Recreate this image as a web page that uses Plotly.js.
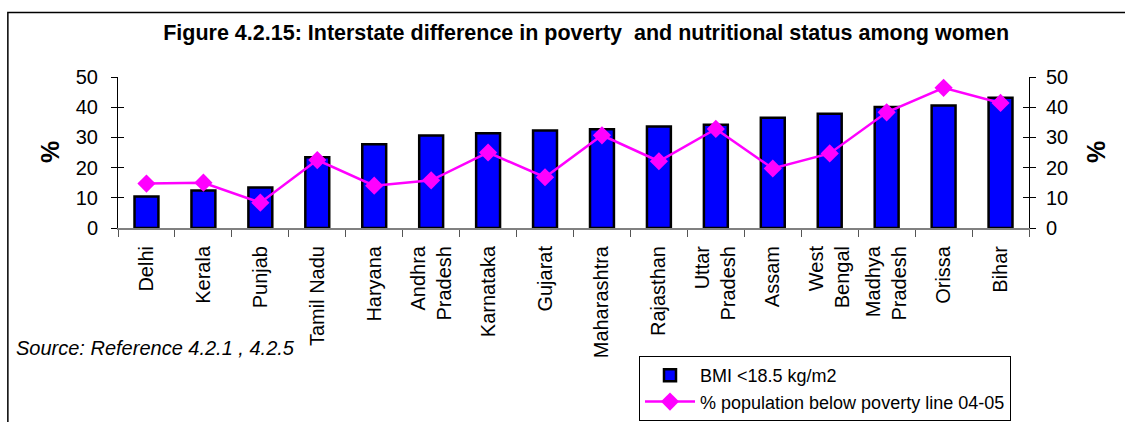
<!DOCTYPE html>
<html>
<head>
<meta charset="utf-8">
<script src="https://cdn.plot.ly/plotly-3.0.1.min.js"></script>
<style>html,body{margin:0;padding:0;background:#fff;}#chart{width:1125px;height:422px;}</style>
</head>
<body>
<div id="chart"></div>
<script>
var states = ["Delhi","Kerala","Punjab","Tamil Nadu","Haryana","Andhra<br>Pradesh","Karnataka","Gujarat","Maharashtra","Rajasthan","Uttar<br>Pradesh","Assam","West<br>Bengal","Madhya<br>Pradesh","Orissa","Bihar"];
var bmiLow = [10.4,12.4,13.4,23.4,27.7,30.6,31.4,32.3,32.7,33.6,34.2,36.5,37.8,40.1,40.6,43.1];
var poverty = [14.7,15.0,8.4,22.5,14.0,15.8,25.0,16.8,30.7,22.1,32.8,19.7,24.7,38.3,46.4,41.4];
var yTicks = [0,10,20,30,40,50];

var FONT = "Liberation Sans, Arial, sans-serif";

var traces = [
  {
    type: "bar", name: "BMI <18.5 kg/m2", x: states, y: bmiLow, yaxis: "y",
    marker: {color: "#0000FF", line: {color: "#000000", width: 2.5}},
    hoverinfo: "skip"
  },
  {
    type: "scatter", mode: "lines+markers", name: "% population below poverty line 04-05",
    x: states, y: poverty, yaxis: "y2",
    line: {color: "#FF00FF", width: 2.5},
    marker: {symbol: "diamond", size: 14, color: "#FF00FF"},
    hoverinfo: "skip"
  },
  {type: "scatter", x: [], y: [], yaxis: "y3", showlegend: false, hoverinfo: "skip"},
  {type: "scatter", x: [], y: [], yaxis: "y4", showlegend: false, hoverinfo: "skip"}
];

var yCommon = {
  range: [0, 50], tickvals: yTicks, showgrid: false, zeroline: false,
  showline: true, linecolor: "#000", linewidth: 1,
  ticks: "outside", ticklen: 6, tickcolor: "#000", tickwidth: 1,
  tickfont: {family: FONT, size: 20, color: "#000"}, fixedrange: true, automargin: false
};

var layout = {
  width: 1125, height: 422,
  margin: {l: 118, r: 96, t: 77, b: 194, pad: 0, autoexpand: false},
  paper_bgcolor: "#fff", plot_bgcolor: "rgba(0,0,0,0)",
  font: {family: FONT, size: 20, color: "#000"},
  showlegend: true,
  bargap: 0.58,
  title: {
    text: "<b>Figure 4.2.15: Interstate difference in poverty  and nutritional status among women</b>",
    font: {family: FONT, size: 21.5, color: "#000"},
    x: 0.521, xref: "container", xanchor: "center",
    y: 0.924, yref: "container", yanchor: "middle"
  },
  xaxis: {
    type: "category", range: [-0.5, 15.5], autorange: false,
    showgrid: false, zeroline: false,
    showline: true, linecolor: "#808080", linewidth: 2,
    ticks: "outside", tickson: "boundaries", ticklen: 7, tickcolor: "#555", tickwidth: 1,
    ticklabelstandoff: 8,
    tickangle: -90, tickfont: {family: FONT, size: 20, color: "#000"}, fixedrange: true, automargin: false
  },
  yaxis: Object.assign({}, yCommon, {side: "left", ticklabelstandoff: 9}),
  yaxis2: Object.assign({}, yCommon, {side: "right", overlaying: "y", ticklabelstandoff: 6}),
  yaxis3: Object.assign({}, yCommon, {side: "left", overlaying: "y", ticks: "inside", showticklabels: false}),
  yaxis4: Object.assign({}, yCommon, {side: "right", overlaying: "y", ticks: "inside", showticklabels: false}),
  legend: {
    x: 0.568, xref: "container", xanchor: "left",
    y: 1 / 422, yref: "container", yanchor: "bottom",
    bgcolor: "#fff", bordercolor: "#000", borderwidth: 1,
    font: {family: FONT, size: 18, color: "#000"},
    itemwidth: 50, tracegroupgap: 0, itemclick: false, itemdoubleclick: false
  },
  annotations: [
    {text: "<b>%</b>", textangle: -90, x: -0.0747, y: 0.503, xref: "paper", yref: "paper",
     xanchor: "center", yanchor: "middle", showarrow: false, font: {family: FONT, size: 25, color: "#000"}},
    {text: "<b>%</b>", textangle: -90, x: 1.0736, y: 0.503, xref: "paper", yref: "paper",
     xanchor: "center", yanchor: "middle", showarrow: false, font: {family: FONT, size: 25, color: "#000"}},
    {text: "<i>Source: Reference 4.2.1 , 4.2.5</i>", x: -0.1143, y: -0.796, xref: "paper", yref: "paper",
     xanchor: "left", yanchor: "middle", showarrow: false, font: {family: FONT, size: 20, color: "#000"}}
  ],
  shapes: [
    {type: "rect", xref: "paper", yref: "paper", x0: -0.1209, x1: 1.25, y0: -3, y1: 1.4268,
     line: {color: "#000", width: 1.5}, fillcolor: "rgba(0,0,0,0)", layer: "below"}
  ]
};

Plotly.newPlot("chart", traces, layout, {staticPlot: true, displayModeBar: false});
</script>
</body>
</html>
